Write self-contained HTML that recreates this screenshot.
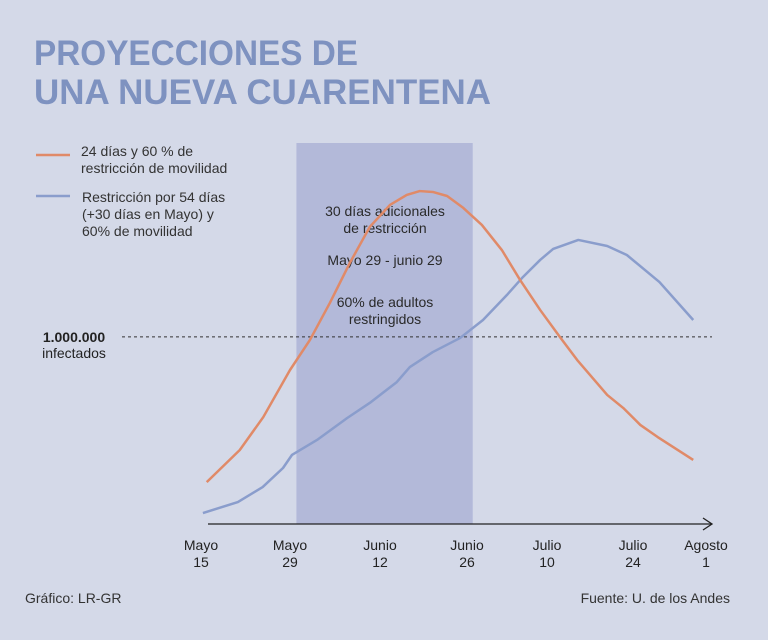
<!DOCTYPE html>
<html><head><meta charset="utf-8"><style>
body{margin:0;background:#d4d9e8;}
svg{display:block;font-family:"Liberation Sans",sans-serif;}
</style></head><body>
<svg width="768" height="640" viewBox="0 0 768 640">
<rect x="0" y="0" width="768" height="640" fill="#d4d9e8"/>
<g fill="#7e92c0" font-weight="bold" font-size="35">
<text x="34" y="65" textLength="324" lengthAdjust="spacingAndGlyphs">PROYECCIONES DE</text>
<text x="34" y="104" textLength="457" lengthAdjust="spacingAndGlyphs">UNA NUEVA CUARENTENA</text>
</g>
<g id="plot"></g>
<g font-size="14" fill="#333">
<line x1="36" y1="155" x2="70" y2="155" stroke="#e08a68" stroke-width="2.5"/>
<text x="81" y="156"><tspan x="81">24 días y 60 % de</tspan><tspan x="81" dy="17">restricción de movilidad</tspan></text>
<line x1="36" y1="196" x2="70" y2="196" stroke="#8a9dcc" stroke-width="2.5"/>
<text x="82" y="202"><tspan x="82">Restricción por 54 días</tspan><tspan x="82" dy="17">(+30 días en Mayo) y</tspan><tspan x="82" dy="17">60% de movilidad</tspan></text>
</g>
<g font-size="14" fill="#222" text-anchor="middle">
<text x="74" y="342" font-weight="bold">1.000.000</text>
<text x="74" y="358">infectados</text>
</g>
<g font-size="14" fill="#333">
<text x="25" y="603">Gráfico: LR-GR</text>
<text x="730" y="603" text-anchor="end">Fuente: U. de los Andes</text>
</g>
</svg>
<script>
const tickDays = [0, 14, 28, 42, 56, 70, 78];
const tickTop = ["Mayo","Mayo","Junio","Junio","Julio","Julio","Agosto"];
const tickBottom = ["15","29","12","26","10","24","1"];
const orangeDays = [0.9,6.1,9.8,14,17.1,20.2,23.3,26.4,29.6,32.3,34.4,36.5,38.8,41.4,44.6,48.1,51.3,54.8,58.1,60.9,63,65.8,68.4,70.8,72.7,76.6];
const orangeVals = [207,382,562,819,983,1185,1403,1600,1720,1775,1796,1791,1769,1704,1611,1474,1310,1147,999,874,792,683,612,519,453,328];
const blueDays = [0.3,5.8,9.7,12.9,14.3,18.2,22.9,26.4,30.7,32.8,36.5,40.9,44.8,49,51.8,54.8,57,61.1,65.8,69,72.9,76.6];
const blueVals = [38,98,180,284,355,437,557,639,753,835,917,994,1092,1229,1327,1420,1480,1529,1496,1447,1299,1092];
const shadeStart = 15, shadeEnd = 43;
const threshold = 1000;

const tickPx = [201,290,380,467,547,633,706];
function xs(d){
  for(let i=0;i<tickDays.length-1;i++){
    if(d<=tickDays[i+1]||i===tickDays.length-2){
      const t=(d-tickDays[i])/(tickDays[i+1]-tickDays[i]);
      return tickPx[i]+t*(tickPx[i+1]-tickPx[i]);
    }
  }
}
function ys(v){return 520 - v/5.46;}
const NS="http://www.w3.org/2000/svg";
const g=document.getElementById('plot');
function mk(tag,attrs){const e=document.createElementNS(NS,tag);for(const k in attrs)e.setAttribute(k,attrs[k]);g.appendChild(e);return e;}

const sh=mk('rect',{x:xs(shadeStart),y:143,width:xs(shadeEnd)-xs(shadeStart),height:381,fill:'#b3b9d9'});



const notes=[["30 días adicionales",216],["de restricción",233],["Mayo 29 - junio 29",265],["60% de adultos",307],["restringidos",324]];
notes.forEach(n=>{const t=mk('text',{x:385,y:n[1],'text-anchor':'middle','font-size':14,fill:'#2a2a2a'});t.textContent=n[0];

});

const th=mk('line',{x1:122,x2:712,y1:ys(threshold),y2:ys(threshold),stroke:'#333','stroke-width':1,'stroke-dasharray':'3,3'});



function line(days,vals,color,name){
  const p=mk('polyline',{points:days.map((d,i)=>xs(d)+','+ys(vals[i])).join(' '),fill:'none',stroke:color,'stroke-width':2.5,'stroke-linejoin':'round'});
  
  
}
line(blueDays,blueVals,'#8a9dcc','series-54-dias');
line(orangeDays,orangeVals,'#e08a68','series-24-dias');

const ax=mk('line',{x1:208,x2:712,y1:524,y2:524,stroke:'#222','stroke-width':1.3});


const ar=mk('polyline',{points:'703,518 712,524 703,530',fill:'none',stroke:'#222','stroke-width':1.3});



tickDays.forEach((d,i)=>{
  const t=mk('text',{x:xs(d),y:550,'text-anchor':'middle','font-size':14,fill:'#222'});
  
  
  const a=document.createElementNS(NS,'tspan');a.setAttribute('x',xs(d));a.textContent=tickTop[i];t.appendChild(a);
  const b=document.createElementNS(NS,'tspan');b.setAttribute('x',xs(d));b.setAttribute('dy','17');b.textContent=tickBottom[i];t.appendChild(b);
});
</script>
</body></html>
